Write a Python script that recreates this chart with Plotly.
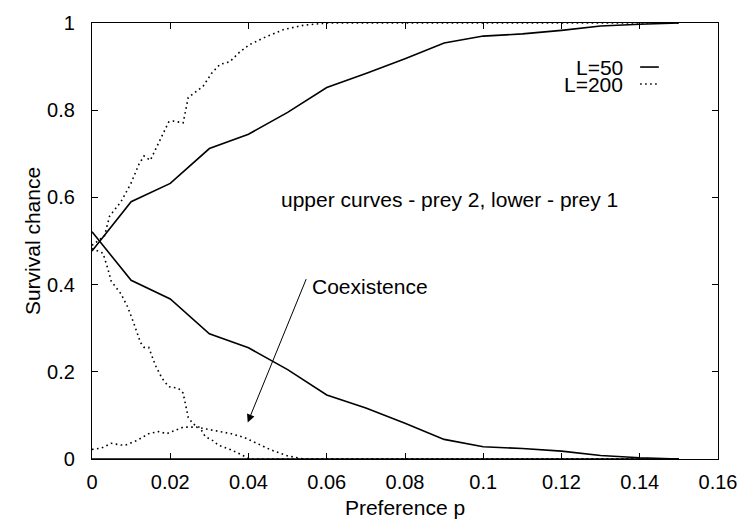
import plotly.graph_objects as go

# L = 50 (coarse grid)
p_L50 = [0.0, 0.01, 0.02, 0.03, 0.04, 0.05, 0.06, 0.07, 0.08, 0.09, 0.10, 0.11, 0.12, 0.13, 0.14, 0.15]
prey2_L50 = [0.477, 0.59, 0.632, 0.712, 0.745, 0.795, 0.852, 0.884, 0.918, 0.954, 0.970, 0.975, 0.983, 0.993, 0.997, 1.0]
prey1_L50 = [0.521, 0.41, 0.367, 0.287, 0.255, 0.205, 0.147, 0.117, 0.082, 0.045, 0.028, 0.024, 0.018, 0.008, 0.003, 0.0]
coex_L50 = [0.0] * 16

# L = 200 (fine resolution)
p_prey2_L200 = [0.0, 0.0032, 0.0045, 0.0074, 0.0099, 0.0120, 0.0133, 0.0149, 0.0166, 0.0183, 0.0196, 0.0208,
                0.0233, 0.0246, 0.0259, 0.0284, 0.0306, 0.0327, 0.0352, 0.0377, 0.0402, 0.0440, 0.0490,
                0.0541, 0.0600, 0.15]
prey2_L200 = [0.49, 0.512, 0.557, 0.590, 0.631, 0.676, 0.695, 0.685, 0.717, 0.747, 0.773, 0.775,
              0.771, 0.829, 0.838, 0.855, 0.885, 0.905, 0.911, 0.933, 0.950, 0.9665, 0.985,
              0.995, 1.0, 1.0]

p_prey1_L200 = [0.0, 0.0028, 0.0040, 0.0049, 0.0074, 0.0091, 0.0107, 0.0124, 0.0133, 0.0145, 0.0162, 0.0179,
                0.0196, 0.0221, 0.0233, 0.0246, 0.0259, 0.0276, 0.0289, 0.0313, 0.0322, 0.0356, 0.0390,
                0.0402, 0.15]
prey1_L200 = [0.483, 0.472, 0.438, 0.408, 0.379, 0.349, 0.311, 0.267, 0.256, 0.256, 0.215, 0.185,
              0.166, 0.162, 0.151, 0.095, 0.080, 0.072, 0.052, 0.040, 0.032, 0.021, 0.006,
              0.0, 0.0]

p_coex_L200 = [0.0, 0.0024, 0.0049, 0.0074, 0.0086, 0.0116, 0.0145, 0.0170, 0.0191, 0.0212, 0.0233, 0.0267,
               0.0313, 0.0322, 0.0356, 0.0390, 0.0423, 0.0457, 0.0499, 0.0540, 0.15]
coex_L200 = [0.022, 0.025, 0.036, 0.032, 0.032, 0.043, 0.058, 0.063, 0.058, 0.066, 0.073, 0.073,
             0.066, 0.064, 0.058, 0.049, 0.036, 0.021, 0.0074, 0.0, 0.0]

x_ticks = [0, 0.02, 0.04, 0.06, 0.08, 0.10, 0.12, 0.14, 0.16]
x_ticklabels = ["0", "0.02", "0.04", "0.06", "0.08", "0.1", "0.12", "0.14", "0.16"]
y_ticks = [0, 0.2, 0.4, 0.6, 0.8, 1.0]
y_ticklabels = ["0", "0.2", "0.4", "0.6", "0.8", "1"]

FONT = "Liberation Sans, Arial, sans-serif"
FS = 20
FA = 21
DOT = "1.6px,3.4px"

fig = go.Figure()
solid = dict(color="black", width=1.6)
dotted = dict(color="black", width=1.6, dash=DOT)

fig.add_trace(go.Scatter(x=p_L50, y=prey2_L50, mode="lines", line=solid, showlegend=False))
fig.add_trace(go.Scatter(x=p_L50, y=prey1_L50, mode="lines", line=solid, showlegend=False))
fig.add_trace(go.Scatter(x=p_L50, y=coex_L50, mode="lines", line=solid, showlegend=False))
fig.add_trace(go.Scatter(x=p_prey2_L200, y=prey2_L200, mode="lines", line=dotted, showlegend=False))
fig.add_trace(go.Scatter(x=p_prey1_L200, y=prey1_L200, mode="lines", line=dotted, showlegend=False))
fig.add_trace(go.Scatter(x=p_coex_L200, y=coex_L200, mode="lines", line=dotted, showlegend=False))

axis_common = dict(
    showline=True, linecolor="black", linewidth=1.2, mirror="ticks",
    ticks="inside", ticklen=6, tickwidth=1, tickcolor="black",
    showgrid=False, zeroline=False,
    tickfont=dict(family=FONT, size=FS, color="black"),
)

fig.update_xaxes(range=[0, 0.16], tickvals=x_ticks, ticktext=x_ticklabels,
                 title=dict(text="Preference p", font=dict(family=FONT, size=FA, color="black"), standoff=8),
                 ticklabelstandoff=5, **axis_common)
fig.update_yaxes(range=[0, 1], tickvals=y_ticks, ticktext=y_ticklabels,
                 title=dict(text="Survival chance", font=dict(family=FONT, size=FA, color="black"), standoff=0),
                 ticklabelstandoff=12, **axis_common)

annotations = [
    dict(x=0.0479, y=0.595, xref="x", yref="y", text="upper curves - prey 2, lower - prey 1",
         showarrow=False, xanchor="left", yanchor="middle", font=dict(family=FONT, size=FA, color="black")),
    dict(x=0.0557, y=0.396, xref="x", yref="y", text="Coexistence",
         showarrow=False, xanchor="left", yanchor="middle", font=dict(family=FONT, size=FA, color="black")),
    dict(x=0.0398, y=0.084, xref="x", yref="y", ax=0.0549, ay=0.416, axref="x", ayref="y",
         text="", showarrow=True, arrowhead=2, arrowsize=1.6, arrowwidth=1, arrowcolor="black"),
    dict(x=0.852, y=0.899, xref="paper", yref="paper", text="L=50", showarrow=False,
         xanchor="right", yanchor="middle", font=dict(family=FONT, size=FA, color="black")),
    dict(x=0.852, y=0.860, xref="paper", yref="paper", text="L=200", showarrow=False,
         xanchor="right", yanchor="middle", font=dict(family=FONT, size=FA, color="black")),
]

shapes = [
    dict(type="line", xref="paper", yref="paper", x0=0.8756, x1=0.9055, y0=0.899, y1=0.899,
         line=dict(color="black", width=1.6)),
    dict(type="line", xref="paper", yref="paper", x0=0.8756, x1=0.9055, y0=0.860, y1=0.860,
         line=dict(color="black", width=1.6, dash=DOT)),
]

fig.update_layout(
    width=749, height=528,
    margin=dict(l=92, r=22, t=12, b=69),
    paper_bgcolor="white", plot_bgcolor="white",
    annotations=annotations, shapes=shapes,
    showlegend=False,
)

fig.write_html("out.html", config={"displayModeBar": False},
               post_script="document.body.style.margin='0';document.body.style.overflow='hidden';")
